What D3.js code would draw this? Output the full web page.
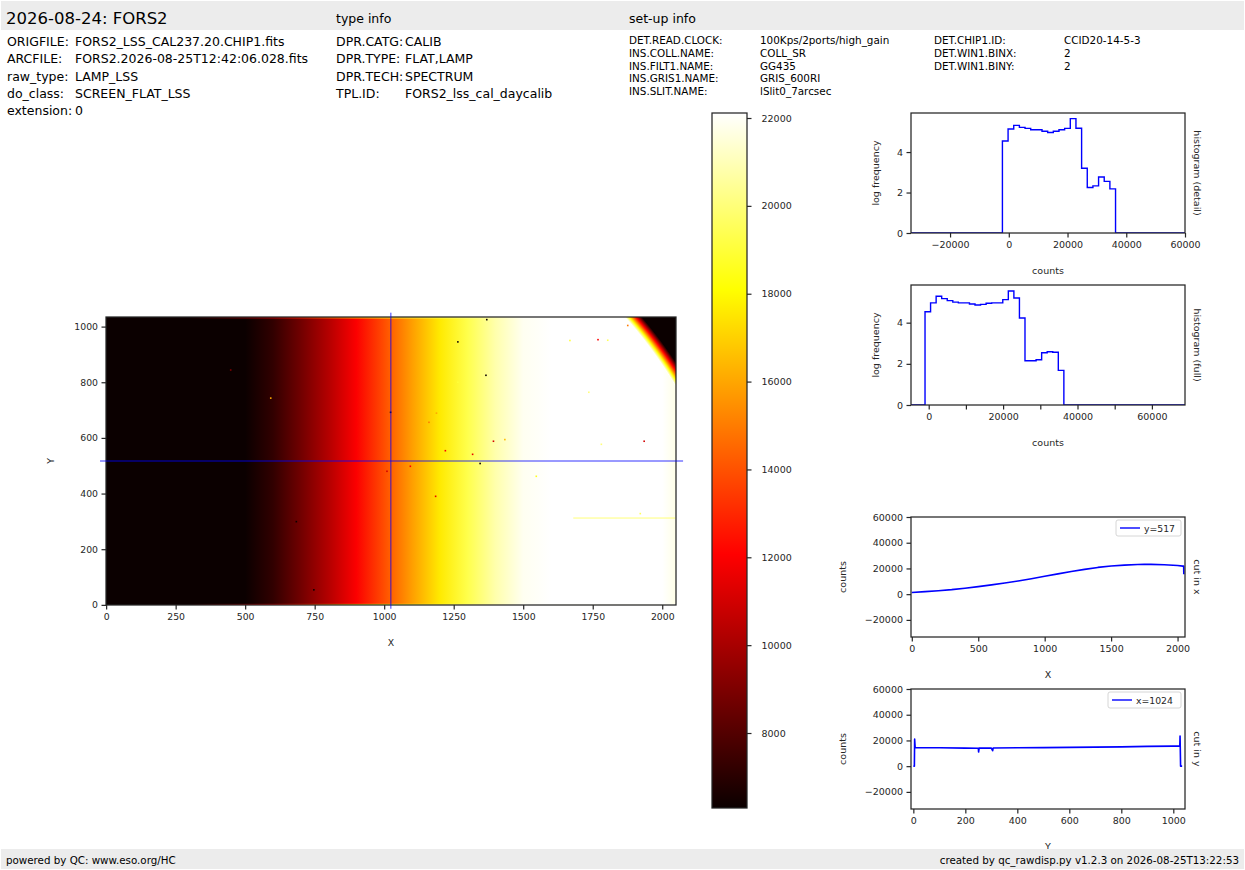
<!DOCTYPE html>
<html>
<head>
<meta charset="utf-8">
<script src="https://cdn.jsdelivr.net/npm/d3@7.9.0/dist/d3.min.js"></script>
<style>
  body { margin: 0; background: #fff; }
  svg { display: block; }
  text { font-family: "DejaVu Sans", sans-serif; }
</style>
</head>
<body>
<svg id="fig" width="1245" height="870"></svg>
<script>
// ---------- Header text ----------
const title = "2026-08-24: FORS2";
const fileKeys = ["ORIGFILE:", "ARCFILE:", "raw_type:", "do_class:", "extension:"];
const fileVals = ["FORS2_LSS_CAL237.20.CHIP1.fits", "FORS2.2026-08-25T12:42:06.028.fits", "LAMP_LSS", "SCREEN_FLAT_LSS", "0"];
const typeKeys = ["DPR.CATG:", "DPR.TYPE:", "DPR.TECH:", "TPL.ID:"];
const typeVals = ["CALIB", "FLAT,LAMP", "SPECTRUM", "FORS2_lss_cal_daycalib"];
const setupKeys = ["DET.READ.CLOCK:", "INS.COLL.NAME:", "INS.FILT1.NAME:", "INS.GRIS1.NAME:", "INS.SLIT.NAME:"];
const setupVals = ["100Kps/2ports/high_gain", "COLL_SR", "GG435", "GRIS_600RI", "lSlit0_7arcsec"];
const setup2Keys = ["DET.CHIP1.ID:", "DET.WIN1.BINX:", "DET.WIN1.BINY:"];
const setup2Vals = ["CCID20-14-5-3", "2", "2"];

// ---------- Image data ----------
const nx = 2050, ny = 1035;
const vmin = 6293, vmax = 22114;
// row cut at y=517 (also the column profile of the flat)
const rowCutX = [0, 100, 200, 300, 400, 500, 600, 700, 800, 900, 1000, 1100, 1200, 1300, 1400, 1500, 1600, 1700, 1750, 1800, 1900, 2000, 2040, 2046, 2047];
const rowCutCounts = [1300, 2000, 2700, 3500, 4600, 5900, 7200, 8700, 10300, 12000, 13900, 15800, 17600, 19300, 20800, 21900, 22600, 23100, 23300, 23200, 22900, 22300, 21800, 21800, 15500];
// first / last rows are a bit brighter
const edgeRowX = [0, 300, 400, 500, 600, 700, 800, 900, 1000, 1100, 1200, 1300, 1400, 1500, 2047];
const edgeRowCounts = [5000, 6500, 8000, 9500, 11000, 13000, 15000, 17000, 18500, 19000, 19500, 20300, 21000, 22000, 22000];
// column cut at x=1024
const colCutY = [0, 4, 5, 7, 100, 200, 250, 251, 253, 300, 305, 307, 400, 500, 600, 700, 800, 900, 1000, 1025, 1026, 1028, 1034];
const colCutCounts = [0, 0, 21000, 14500, 14300, 14000, 13900, 11000, 14000, 14000, 12000, 14100, 14300, 14400, 14600, 14800, 15000, 15400, 15600, 15600, 23500, 0, 0];
// vignetting: illuminated field is a disc, level falls off at its rim (top-right corner)
const vignetteCenter = [700, -12];
const vignetteRadii = [1567, 1613];
const vignetteCounts = [vmax, vmin];
// isolated pixels [x, y, counts]
const hotPixels = [
  [1369, 1025, 3000], [1265, 945, 3000], [1366, 825, 3000], [592, 743, 16000],
  [448, 844, 9000], [1023, 692, 5000], [1393, 588, 11000], [1434, 594, 16500],
  [1220, 554, 12000], [1318, 541, 11500], [1345, 508, 3000], [1094, 498, 12000],
  [1185, 390, 11500], [1547, 462, 18500], [1935, 588, 11000], [1769, 953, 12000],
  [1876, 1004, 15000], [1668, 950, 19000], [1804, 951, 19500], [1781, 577, 20000],
  [684, 299, 3000], [747, 54, 5000], [1921, 328, 19500], [1736, 764, 20000],
  [1161, 656, 15000], [1188, 689, 16000], [1265, 800, 19000], [1010, 480, 11000]
];
const streakY = 312;
const streakX = [1680, 2047];
const streakCounts = 19500;
const crossX = 1024, crossY = 517;

// ---------- Histograms (log10 frequency per bin) ----------
const detailStart = -2170, detailWidth = 1926;
const detailLogFreq = [4.55, 5.14, 5.32, 5.22, 5.17, 5.1, 5.1, 5.03, 4.97, 5.03, 5.1, 5.17, 5.65, 5.18, 3.2, 2.25, 2.33, 2.77, 2.55, 2.18];
const fullStart = -990, fullWidth = 1493;
const fullLogFreq = [4.53, 4.96, 5.28, 5.17, 5.07, 5.0, 4.96, 4.96, 4.91, 4.86, 4.89, 4.94, 4.96, 4.96, 5.12, 5.54, 5.2, 4.23, 2.15, 2.15, 2.2, 2.54, 2.59, 2.56, 1.68];

// ---------- Ticks ----------
const imgXTicks = [0, 250, 500, 750, 1000, 1250, 1500, 1750, 2000];
const imgYTicks = [0, 200, 400, 600, 800, 1000];
const cbarTicks = [8000, 10000, 12000, 14000, 16000, 18000, 20000, 22000];
const detailXTicks = [-20000, 0, 20000, 40000, 60000];
const fullXTicks = [0, 10000, 20000, 30000, 40000, 50000, 60000];
const logTicks = [0, 2, 4];
const countTicks = [-20000, 0, 20000, 40000, 60000];
const cutXTicks = [0, 500, 1000, 1500, 2000];
const cutYTicks = [0, 200, 400, 600, 800, 1000];

// ---------- Setup ----------
const ink = "#262626";
const lineBlue = "#0000ff";
const fmt = d3.format("d");
const svg = d3.select("#fig");
const defs = svg.append("defs");

// matplotlib "hot"
const hotNodes = [0, 0.365079, 0.746032, 1];
const color = d3.scaleLinear()
  .domain(hotNodes.map((f) => vmin + f * (vmax - vmin)))
  .range(["rgb(11,0,0)", "rgb(255,0,0)", "rgb(255,255,0)", "rgb(255,255,255)"])
  .clamp(true);

function styleAxis(g, size = 9.5) {
  g.select(".domain").remove();
  g.attr("font-family", null).attr("font-size", null);
  g.selectAll(".tick line").attr("stroke", ink).attr("stroke-width", 1.2);
  g.selectAll(".tick text").attr("fill", ink).attr("font-size", size);
}

function frame(x0, y0, w, h) {
  svg.append("rect").attr("x", x0).attr("y", y0).attr("width", w).attr("height", h)
    .attr("fill", "none").attr("stroke", ink).attr("stroke-width", 1.25);
}

// ---------- Header ----------
svg.append("rect").attr("x", 1).attr("y", 1).attr("width", 1243).attr("height", 29).attr("fill", "#ececec");

svg.append("text").attr("x", 6).attr("y", 24).attr("font-size", 16.5).text(title);
svg.append("text").attr("x", 336).attr("y", 23).attr("font-size", 12.5).text("type info");
svg.append("text").attr("x", 629).attr("y", 23).attr("font-size", 12.5).text("set-up info");

const fileRows = [45.5, 62.5, 80.5, 98, 114.5];
fileKeys.forEach((k, i) => {
  svg.append("text").attr("x", 7).attr("y", fileRows[i]).attr("font-size", 12.5).text(k);
  svg.append("text").attr("x", 75).attr("y", fileRows[i]).attr("font-size", 12.5).text(fileVals[i]);
});
typeKeys.forEach((k, i) => {
  svg.append("text").attr("x", 336).attr("y", fileRows[i]).attr("font-size", 12.5).text(k);
  svg.append("text").attr("x", 405).attr("y", fileRows[i]).attr("font-size", 12.5).text(typeVals[i]);
});
const setupRows = [44, 57, 70, 82, 95];
setupKeys.forEach((k, i) => {
  svg.append("text").attr("x", 629).attr("y", setupRows[i]).attr("font-size", 10.4).text(k);
  svg.append("text").attr("x", 760).attr("y", setupRows[i]).attr("font-size", 10.4).text(setupVals[i]);
});
setup2Keys.forEach((k, i) => {
  svg.append("text").attr("x", 934).attr("y", setupRows[i]).attr("font-size", 10.4).text(k);
  svg.append("text").attr("x", 1064).attr("y", setupRows[i]).attr("font-size", 10.4).text(setup2Vals[i]);
});

// ---------- Image ----------
const xImg = d3.scaleLinear().domain([-0.5, nx - 0.5]).range([106, 676]);
const yImg = d3.scaleLinear().domain([-0.5, ny - 0.5]).range([605, 317]);
const imgX0 = xImg(-0.5), imgY0 = yImg(ny - 0.5);
const imgW = xImg(nx - 0.5) - imgX0, imgH = yImg(-0.5) - imgY0;

function profileGradient(id, xs, vals) {
  const grad = defs.append("linearGradient").attr("id", id)
    .attr("gradientUnits", "userSpaceOnUse")
    .attr("x1", imgX0).attr("x2", imgX0 + imgW).attr("y1", 0).attr("y2", 0);
  xs.forEach((x, i) => {
    grad.append("stop")
      .attr("offset", (xImg(x) - imgX0) / imgW)
      .attr("stop-color", color(vals[i]));
  });
}
profileGradient("imgGrad", rowCutX.slice(0, -1), rowCutCounts.slice(0, -1));
profileGradient("edgeGrad", edgeRowX, edgeRowCounts);

defs.append("clipPath").attr("id", "imgClip").append("rect")
  .attr("x", imgX0).attr("y", imgY0).attr("width", imgW).attr("height", imgH);

const img = svg.append("g").attr("clip-path", "url(#imgClip)");
img.append("rect")
  .attr("x", imgX0).attr("y", imgY0).attr("width", imgW).attr("height", imgH)
  .attr("fill", "url(#imgGrad)");
// edge rows
[[-0.5, 3.5], [ny - 5.5, ny - 1.5]].forEach(([y0, y1]) => {
  img.append("rect")
    .attr("x", imgX0).attr("y", yImg(y1))
    .attr("width", imgW).attr("height", yImg(y0) - yImg(y1))
    .attr("fill", "url(#edgeGrad)");
});
// faint horizontal streak
img.append("line")
  .attr("x1", xImg(streakX[0])).attr("x2", xImg(streakX[1]))
  .attr("y1", yImg(streakY)).attr("y2", yImg(streakY))
  .attr("stroke", color(streakCounts)).attr("stroke-width", 1).attr("opacity", 0.8);
// isolated pixels
img.selectAll(".pix").data(hotPixels).join("rect")
  .attr("x", (d) => xImg(d[0]) - 0.8).attr("y", (d) => yImg(d[1]) - 0.8)
  .attr("width", 1.6).attr("height", 1.6)
  .attr("fill", (d) => color(d[2]));

// vignetting: transparent inside the field, ramp through the colormap at its rim
const rIn = vignetteRadii[0], rOut = vignetteRadii[1];
const rScale = d3.scaleLinear().domain(vignetteCounts).range(vignetteRadii);
const vGrad = defs.append("radialGradient").attr("id", "vigGrad")
  .attr("gradientUnits", "userSpaceOnUse")
  .attr("cx", xImg(vignetteCenter[0])).attr("cy", yImg(vignetteCenter[1]))
  .attr("r", xImg(rOut) - xImg(0));
vGrad.append("stop").attr("offset", 0).attr("stop-color", "#fff").attr("stop-opacity", 0);
vGrad.append("stop").attr("offset", rIn / rOut - 0.001).attr("stop-color", "#fff").attr("stop-opacity", 0);
color.domain().slice().reverse().forEach((v) => {
  vGrad.append("stop").attr("offset", rScale(v) / rOut).attr("stop-color", color(v));
});
img.append("rect")
  .attr("x", imgX0).attr("y", imgY0).attr("width", imgW).attr("height", imgH)
  .attr("fill", "url(#vigGrad)");

frame(imgX0, imgY0, imgW, imgH);

// crosshair
svg.append("line")
  .attr("x1", xImg(-22)).attr("x2", xImg(2075))
  .attr("y1", yImg(crossY)).attr("y2", yImg(crossY))
  .attr("stroke", lineBlue).attr("stroke-width", 0.8);
svg.append("line")
  .attr("x1", xImg(crossX)).attr("x2", xImg(crossX))
  .attr("y1", yImg(-14)).attr("y2", yImg(1050))
  .attr("stroke", lineBlue).attr("stroke-width", 0.8);

const imgXAxis = svg.append("g").attr("transform", `translate(0,${yImg(-0.5)})`)
  .call(d3.axisBottom(xImg).tickValues(imgXTicks).tickFormat(fmt).tickSize(4.5).tickPadding(3.5));
styleAxis(imgXAxis, 9.3);
const imgYAxis = svg.append("g").attr("transform", `translate(${imgX0},0)`)
  .call(d3.axisLeft(yImg).tickValues(imgYTicks).tickFormat(fmt).tickSize(4.5).tickPadding(3.5));
styleAxis(imgYAxis, 9.3);
svg.append("text").attr("x", imgX0 + imgW / 2).attr("y", 646)
  .attr("text-anchor", "middle").attr("font-size", 9.3).attr("fill", ink).text("X");
svg.append("text").attr("transform", `translate(54,${imgY0 + imgH / 2}) rotate(-90)`)
  .attr("text-anchor", "middle").attr("font-size", 9.3).attr("fill", ink).text("Y");

// ---------- Colorbar ----------
const cbX = 712, cbW = 35;
const yCb = d3.scaleLinear().domain([vmin, vmax]).range([808, 113]);
const cbGrad = defs.append("linearGradient").attr("id", "cbGrad")
  .attr("gradientUnits", "userSpaceOnUse")
  .attr("x1", 0).attr("x2", 0).attr("y1", yCb(vmin)).attr("y2", yCb(vmax));
color.domain().forEach((v) => {
  cbGrad.append("stop").attr("offset", (v - vmin) / (vmax - vmin)).attr("stop-color", color(v));
});
svg.append("rect").attr("x", cbX).attr("y", yCb(vmax)).attr("width", cbW)
  .attr("height", yCb(vmin) - yCb(vmax)).attr("fill", "url(#cbGrad)");
frame(cbX, yCb(vmax), cbW, yCb(vmin) - yCb(vmax));
const cbAxis = svg.append("g").attr("transform", `translate(${cbX + cbW},0)`)
  .call(d3.axisRight(yCb).tickValues(cbarTicks).tickSize(4.5).tickPadding(10).tickFormat(fmt));
styleAxis(cbAxis, 9.5);

// ---------- Side panels ----------
function panel(box, xDom, yDom, xTicks, yTicks, opts) {
  const x = d3.scaleLinear().domain(xDom).range([box.x, box.x + box.w]);
  const y = d3.scaleLinear().domain(yDom).range([box.y + box.h, box.y]);
  const xa = svg.append("g").attr("transform", `translate(0,${box.y + box.h})`)
    .call(d3.axisBottom(x).tickValues(xTicks).tickSize(4.5).tickPadding(3.5)
      .tickFormat(opts.xFormat || fmt));
  styleAxis(xa);
  const ya = svg.append("g").attr("transform", `translate(${box.x},0)`)
    .call(d3.axisLeft(y).tickValues(yTicks).tickSize(4.5).tickPadding(3.5).tickFormat(fmt));
  styleAxis(ya);
  svg.append("text").attr("x", box.x + box.w / 2).attr("y", box.y + box.h + 41)
    .attr("text-anchor", "middle").attr("font-size", 9.5).attr("fill", ink).text(opts.xLabel);
  svg.append("text").attr("transform", `translate(${opts.yLabelX},${box.y + box.h / 2}) rotate(-90)`)
    .attr("text-anchor", "middle").attr("font-size", 9.5).attr("fill", ink).text(opts.yLabel);
  svg.append("text").attr("transform", `translate(${box.x + box.w + 9},${box.y + box.h / 2}) rotate(90)`)
    .attr("text-anchor", "middle").attr("font-size", 9.5).attr("fill", ink).text(opts.side);
  const clipId = "clip" + Math.round(box.y);
  defs.append("clipPath").attr("id", clipId).append("rect")
    .attr("x", box.x).attr("y", box.y).attr("width", box.w).attr("height", box.h);
  const plot = svg.append("g").attr("clip-path", `url(#${clipId})`);
  return { x, y, plot, box };
}

function histPoints(start, width, vals, xDom) {
  const pts = [[xDom[0], 0]];
  vals.forEach((v, i) => pts.push([start + i * width, v]));
  pts.push([start + vals.length * width, 0]);
  pts.push([xDom[1], 0]);
  return pts;
}

function drawHist(p, pts) {
  const line = d3.line().x((d) => p.x(d[0])).y((d) => p.y(d[1])).curve(d3.curveStepAfter);
  p.plot.append("path").attr("d", line(pts)).attr("fill", "none")
    .attr("stroke", lineBlue).attr("stroke-width", 1.4);
  frame(p.box.x, p.box.y, p.box.w, p.box.h);
}

// detail histogram
const detailDom = [-33300, 60000];
const pDetail = panel({ x: 911, y: 113, w: 274, h: 120 }, detailDom, [0, 5.93], detailXTicks, logTicks,
  { xLabel: "counts", yLabel: "log frequency", side: "histogram (detail)", yLabelX: 879 });
drawHist(pDetail, histPoints(detailStart, detailWidth, detailLogFreq, detailDom));

// full histogram
const fullDom = [-4760, 68900];
const pFull = panel({ x: 911, y: 285, w: 274, h: 120 }, fullDom, [0, 5.83], fullXTicks, logTicks,
  { xLabel: "counts", yLabel: "log frequency", side: "histogram (full)", yLabelX: 879,
    xFormat: (d) => (d % 20000 === 0 ? fmt(d) : "") });
drawHist(pFull, histPoints(fullStart, fullWidth, fullLogFreq, fullDom));

// cuts
function drawCut(p, xs, vals, label, legendW) {
  const line = d3.line().x((d, i) => p.x(xs[i])).y((d) => p.y(d));
  p.plot.append("path").attr("d", line(vals)).attr("fill", "none")
    .attr("stroke", lineBlue).attr("stroke-width", 1.6).attr("stroke-linejoin", "round");
  frame(p.box.x, p.box.y, p.box.w, p.box.h);
  const lx = p.box.x + p.box.w - 4 - legendW, ly = p.box.y + 3;
  svg.append("rect").attr("x", lx).attr("y", ly).attr("width", legendW).attr("height", 16)
    .attr("rx", 2).attr("fill", "#fff").attr("fill-opacity", 0.8)
    .attr("stroke", "#cccccc").attr("stroke-width", 0.8);
  svg.append("line").attr("x1", lx + 4).attr("x2", lx + 24).attr("y1", ly + 8).attr("y2", ly + 8)
    .attr("stroke", lineBlue).attr("stroke-width", 1.4);
  svg.append("text").attr("x", lx + 28).attr("y", ly + 11.5).attr("font-size", 9.3)
    .attr("fill", ink).text(label);
}

const pCutX = panel({ x: 911, y: 517, w: 274, h: 120 }, [-6, 2056], [-33300, 60000], cutXTicks, countTicks,
  { xLabel: "X", yLabel: "counts", side: "cut in x", yLabelX: 846 });
drawCut(pCutX, rowCutX, rowCutCounts, "y=" + crossY, 65);

const pCutY = panel({ x: 911, y: 689, w: 274, h: 120 }, [-9, 1045], [-33300, 60000], cutYTicks, countTicks,
  { xLabel: "Y", yLabel: "counts", side: "cut in y", yLabelX: 846 });
drawCut(pCutY, colCutY, colCutCounts, "x=" + crossX, 73);

// ---------- Footer (drawn last, covers the bottom label) ----------
svg.append("rect").attr("x", 1).attr("y", 849).attr("width", 1243).attr("height", 20).attr("fill", "#ececec");
svg.append("text").attr("x", 6).attr("y", 864).attr("font-size", 10.3).text("powered by QC: www.eso.org/HC");
svg.append("text").attr("x", 1239).attr("y", 864).attr("font-size", 10.3).attr("text-anchor", "end")
  .text("created by qc_rawdisp.py v1.2.3 on 2026-08-25T13:22:53");
</script>
</body>
</html>
